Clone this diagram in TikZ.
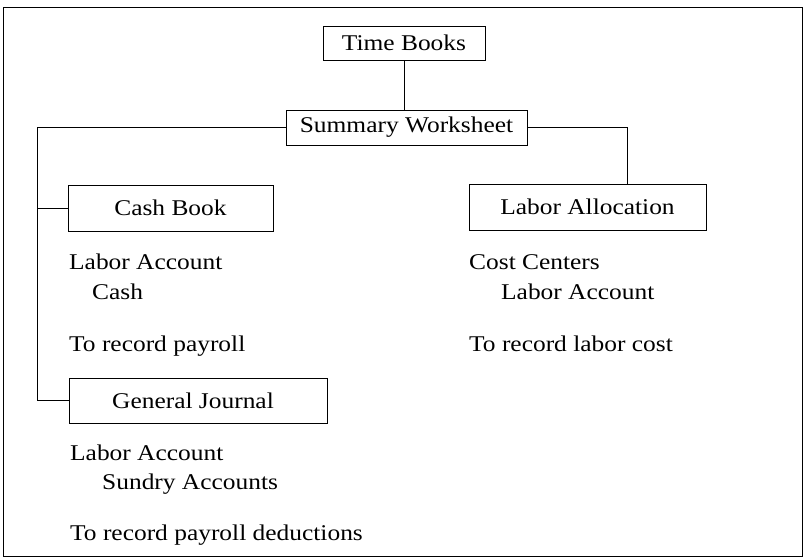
\documentclass[tikz,border=0pt]{standalone}
\usepackage{fontspec}
\setmainfont{Liberation Serif}[FakeStretch=1.13]
\begin{document}
\begin{tikzpicture}[x=1pt,y=-1pt,
  lbl/.style={font=\fontsize{22.5}{27}\selectfont},
  box/.style={lbl, draw, line width=1pt, inner sep=0pt},
  txt/.style={lbl, anchor=base west, inner sep=0pt},
  conn/.style={line width=1pt}]
\useasboundingbox (0,0) rectangle (807,560);
\draw[line width=1pt] (3,7) rectangle (802,556);
\node[box, minimum width=162pt, minimum height=34pt] (tb) at (404,43) {Time Books};
\node[box, minimum width=241pt, minimum height=35pt] (sw) at (406.5,127.5) {Summary Worksheet};
\node[box, minimum width=205pt, minimum height=46pt] (cb) at (170.5,208) {Cash Book};
\node[box, minimum width=237pt, minimum height=46pt] (la) at (587.5,207) {Labor Allocation};
\node[box, minimum width=258pt, minimum height=45pt] (gj) at (198,400.5) {\hspace*{-10pt}General Journal};
\coordinate (lt) at (37,0);
\coordinate (rt) at (627,0);
\draw[conn] (tb.south) -- (tb.south |- sw.north);
\draw[conn] (sw.west) -- (sw.west -| lt) |- (gj.west);
\draw[conn] (cb.west) -- (cb.west -| lt);
\draw[conn] (sw.east) -- (sw.east -| rt) -- (rt |- la.north);
\node[txt] (t1) at (69,269) {Labor Account};
\node[txt] (t2) at (92,299) {Cash};
\node[txt] (t3) at (69,351) {To record payroll};
\node[txt] (r1) at (469,269) {Cost Centers};
\node[txt] (r2) at (501,299) {Labor Account};
\node[txt] (r3) at (469,351) {To record labor cost};
\node[txt] (g1) at (70,460) {Labor Account};
\node[txt] (g2) at (102,489) {Sundry Accounts};
\node[txt] (g3) at (70,540) {To record payroll deductions};
\end{tikzpicture}
\end{document}
